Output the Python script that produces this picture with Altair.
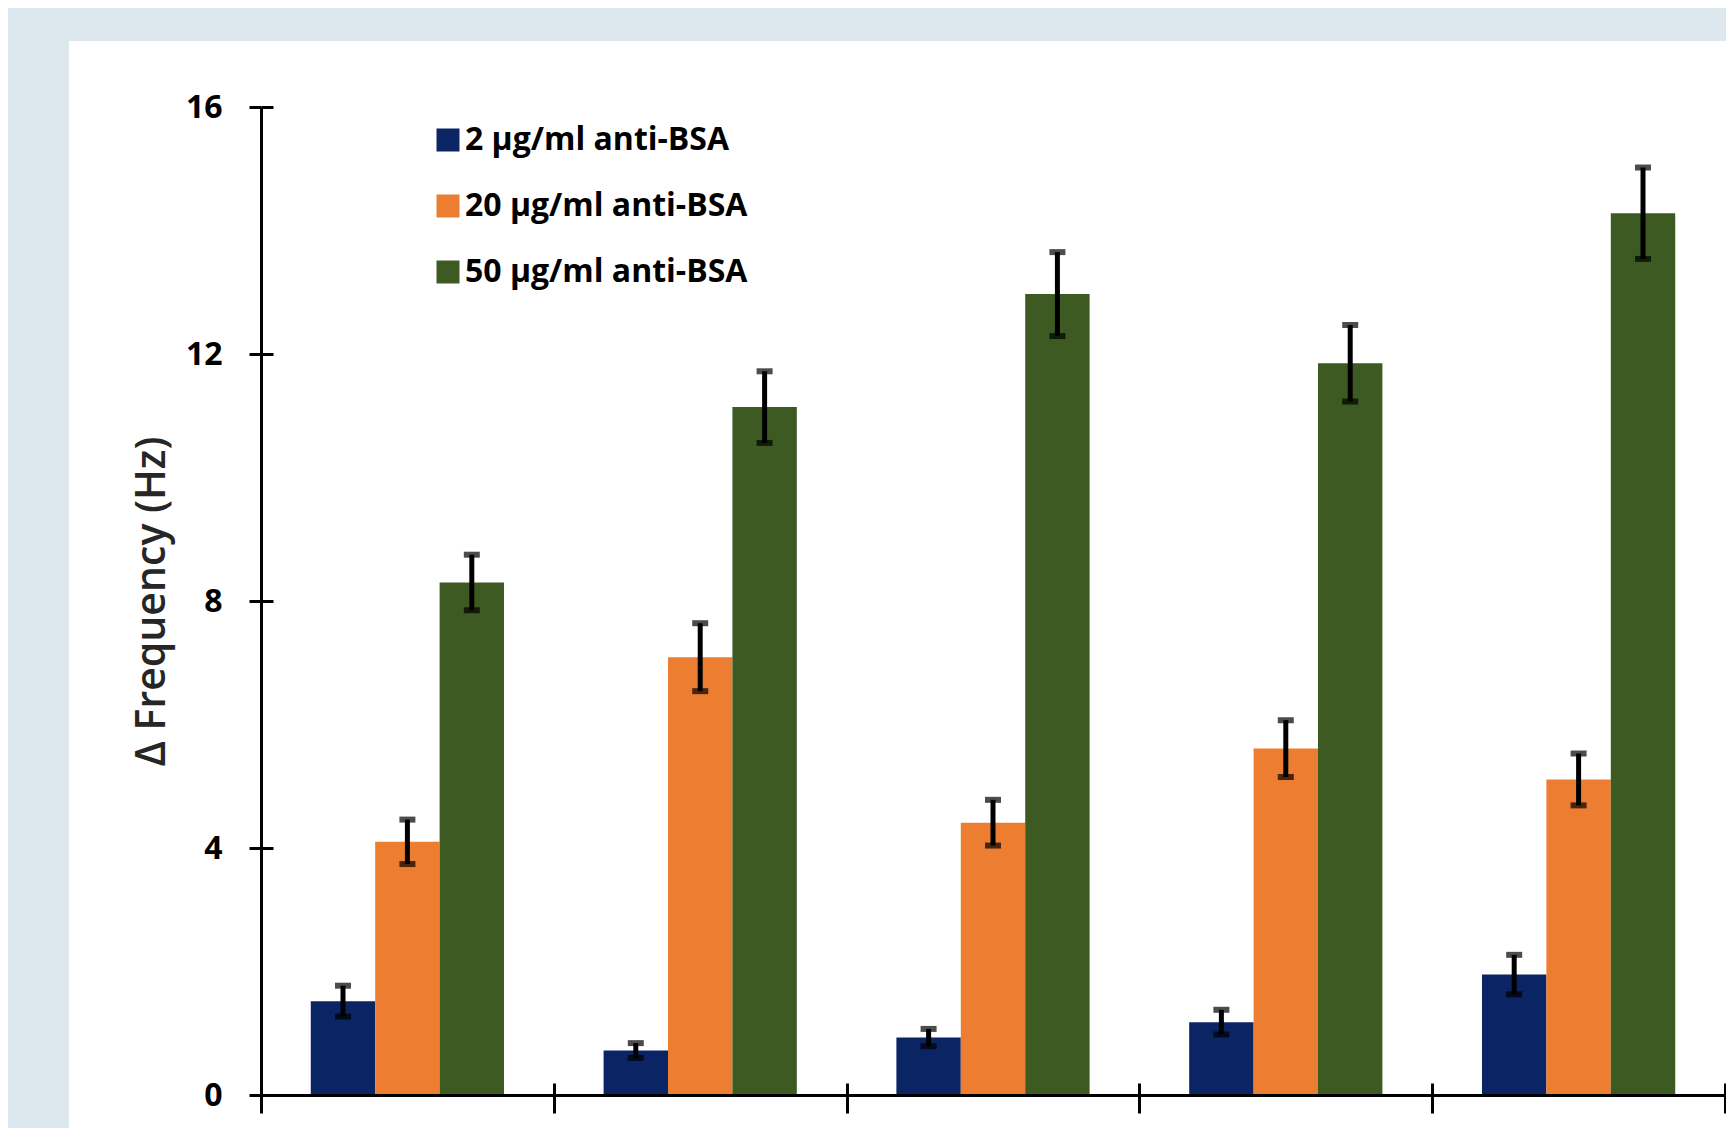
import altair as alt
import pandas as pd

categories = ["1", "2", "3", "4", "5"]
series = ["2 µg/ml anti-BSA", "20 µg/ml anti-BSA", "50 µg/ml anti-BSA"]
colors = ["#0b2463", "#ed7d31", "#3d5a23"]

vals_2 = [1.52, 0.72, 0.93, 1.18, 1.95]
vals_20 = [4.10, 7.09, 4.41, 5.61, 5.11]
vals_50 = [8.30, 11.14, 12.97, 11.85, 14.28]
err_2 = [0.25, 0.12, 0.14, 0.20, 0.32]
err_20 = [0.36, 0.55, 0.37, 0.46, 0.42]
err_50 = [0.45, 0.58, 0.68, 0.62, 0.74]
y_ticks = [0, 4, 8, 12, 16]

rows = []
for i, c in enumerate(categories):
    for s, v, e in zip(series, [vals_2[i], vals_20[i], vals_50[i]],
                       [err_2[i], err_20[i], err_50[i]]):
        rows.append({"cat": c, "series": s, "value": v, "lo": v - e, "hi": v + e})
df = pd.DataFrame(rows)

FONT = "Open Sans"
xscale = alt.Scale(paddingInner=0, paddingOuter=0)
yscale = alt.Scale(domain=[0, 16], nice=False)
xo = alt.XOffset("series:N", sort=series,
                 scale=alt.Scale(paddingInner=0, paddingOuter=0.773))

x_primary = alt.X(
    "cat:N", sort=categories, scale=xscale, title=None,
    axis=alt.Axis(orient="bottom", tickBand="extent", tickSize=18, tickWidth=3,
                  tickColor="black", domainColor="black", domainWidth=3,
                  labelAngle=0, labelFont=FONT, labelFontSize=32,
                  labelFontWeight="bold", labelColor="black", labelPadding=16,
                  zindex=1))
x_secondary = alt.X(
    "cat:N", sort=categories, scale=xscale, title=None,
    axis=alt.Axis(orient="bottom", offset=-12, tickBand="extent", tickSize=12,
                  tickWidth=3, tickColor="black", domain=False, labels=False,
                  zindex=1))

y_primary = alt.Y(
    "value:Q", scale=yscale, title="Δ Frequency (Hz)",
    axis=alt.Axis(orient="left", values=y_ticks, tickSize=12,
                  tickWidth=3, tickColor="black", domainColor="black",
                  domainWidth=3, grid=False, labelFont=FONT, labelFontSize=32,
                  labelFontWeight="bold", labelColor="black", labelPadding=27,
                  titleFont=FONT, titleFontSize=41, titleFontWeight=600,
                  titleColor="#262626", titlePadding=12, zindex=1))
y_secondary = alt.Y(
    "lo:Q", scale=yscale, title=None,
    axis=alt.Axis(orient="left", offset=-12, values=y_ticks,
                  tickSize=12, tickWidth=3, tickColor="black", domain=False,
                  labels=False, grid=False, zindex=1))

bg = alt.Chart(alt.Data(values=[{"a": 1}])).mark_rect(color="white").encode(
    x=alt.value(-192), x2=alt.value(1480), y=alt.value(-66), y2=alt.value(1100))

bars = alt.Chart(df).mark_bar().encode(
    x=x_primary, xOffset=xo, y=y_primary,
    color=alt.Color("series:N", sort=series,
                    scale=alt.Scale(domain=series, range=colors),
                    legend=alt.Legend(orient="none", legendX=171, legendY=17,
                                      title=None, symbolType="square",
                                      symbolSize=529, symbolStrokeWidth=0,
                                      labelFont=FONT, labelFontSize=32,
                                      labelFontWeight="bold", labelColor="black",
                                      labelLimit=600, labelOffset=1,
                                      rowPadding=34, padding=0)))

stems = alt.Chart(df).mark_rule(color="black", strokeWidth=5).encode(
    x=x_secondary, xOffset=xo, y=y_secondary, y2="hi:Q")

caps_lo = alt.Chart(df).mark_tick(color="black", size=16, thickness=6).encode(
    x=alt.X("cat:N", sort=categories, scale=xscale, axis=None), xOffset=xo,
    y=alt.Y("lo:Q", scale=yscale, axis=None))
caps_hi = alt.Chart(df).mark_tick(color="black", size=16, thickness=6).encode(
    x=alt.X("cat:N", sort=categories, scale=xscale, axis=None), xOffset=xo,
    y=alt.Y("hi:Q", scale=yscale, axis=None))

chart = alt.layer(bg, bars, stems, caps_lo, caps_hi).resolve_axis(
    x="independent", y="independent"
).properties(
    width=1464, height=988,
    autosize=alt.AutoSizeParams(type="none"),
    padding={"left": 253, "top": 99, "right": 1, "bottom": 33},
    background="#dce8ee",
).configure_view(stroke=None)

chart.save("out.html", embed_options={"renderer": "svg", "actions": False})
